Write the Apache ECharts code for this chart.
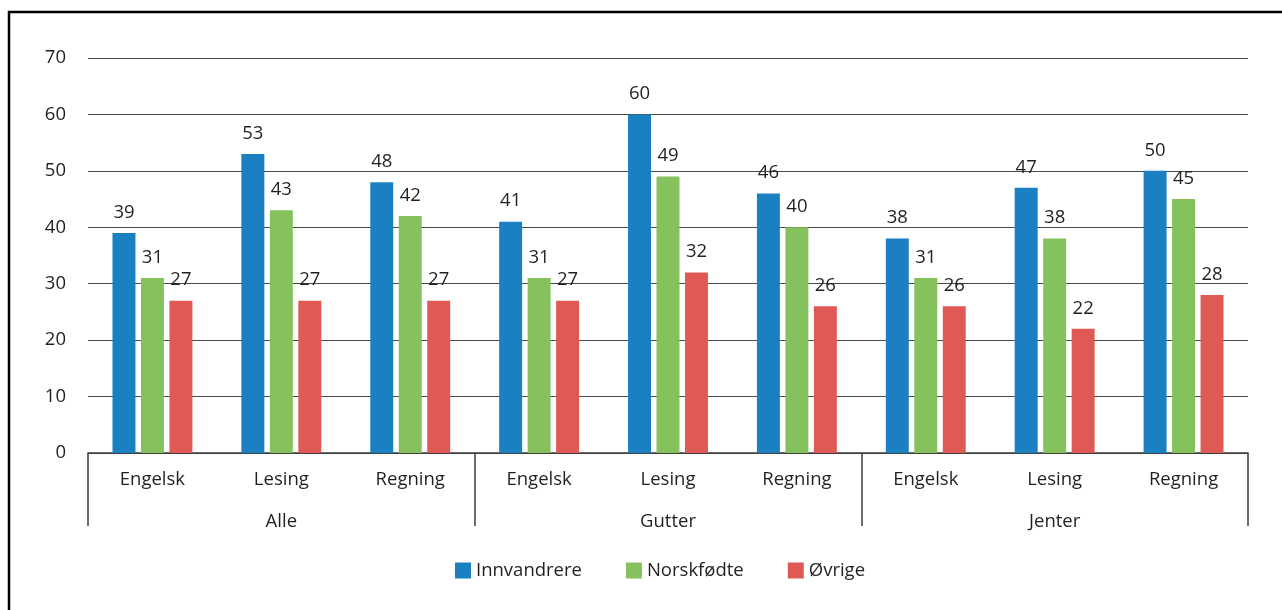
<!DOCTYPE html>
<html>
<head>
<meta charset="utf-8">
<script src="https://cdn.jsdelivr.net/npm/echarts@6/dist/echarts.min.js"></script>
<style>
  html, body { margin: 0; padding: 0; background: #fff; }
  #chart { width: 1282px; height: 610px; }
</style>
</head>
<body>
<div id="chart"></div>
<script>
// Subjects within each group, and the groups themselves
const subjects = ['Engelsk', 'Lesing', 'Regning', 'Engelsk', 'Lesing', 'Regning', 'Engelsk', 'Lesing', 'Regning'];
const groups = ['Alle', 'Gutter', 'Jenter'];
const yTicks = [0, 10, 20, 30, 40, 50, 60, 70];

// Percentages per series (Alle, Gutter, Jenter × Engelsk, Lesing, Regning)
const innvandrere = [39, 53, 48, 41, 60, 46, 38, 47, 50];
const norskfodte  = [31, 43, 42, 31, 49, 40, 31, 38, 45];
const ovrige      = [27, 27, 27, 27, 32, 26, 26, 22, 28];

const textColor = '#231f20';
const fontFamily = '"Open Sans", "Noto Sans", sans-serif';
const fontSize = 18.5;

const chart = echarts.init(document.getElementById('chart'), null, { renderer: 'canvas' });

function barSeries(name, data, color) {
  return {
    name: name,
    type: 'bar',
    data: data,
    xAxisIndex: 0,
    itemStyle: { color: color },
    barGap: '24%',
    barCategoryGap: '38%',
    label: {
      show: true,
      position: 'top',
      distance: 11,
      color: textColor,
      fontSize: fontSize,
      fontFamily: fontFamily
    }
  };
}

chart.setOption({
  animation: false,
  backgroundColor: '#ffffff',
  textStyle: { fontFamily: fontFamily, color: textColor },
  graphic: [{
    type: 'rect',
    shape: { x: 9, y: 12, width: 1400, height: 700 },
    style: { fill: 'none', stroke: '#000', lineWidth: 2.5 },
    silent: true,
    z: 100
  }],
  grid: { left: 88, right: 34, top: 58, bottom: 157 },
  legend: {
    top: 561,
    left: 455,
    padding: 0,
    itemWidth: 16,
    itemHeight: 16,
    itemGap: 44,
    icon: 'rect',
    textStyle: { color: textColor, fontSize: fontSize, fontFamily: fontFamily },
    data: ['Innvandrere', 'Norskfødte', 'Øvrige']
  },
  xAxis: [
    {
      type: 'category',
      data: subjects,
      position: 'bottom',
      axisLine: { show: true, lineStyle: { color: '#3c3c3c', width: 1.5 } },
      axisTick: { show: false },
      axisLabel: { color: textColor, fontSize: fontSize, fontFamily: fontFamily, margin: 17, interval: 0 }
    },
    {
      type: 'category',
      data: groups,
      position: 'bottom',
      axisLine: { show: false },
      axisTick: { show: true, length: 73, lineStyle: { color: '#3c3c3c', width: 1.5 } },
      axisLabel: { color: textColor, fontSize: fontSize, fontFamily: fontFamily, margin: 59, interval: 0 }
    }
  ],
  yAxis: {
    type: 'value',
    min: yTicks[0],
    max: yTicks[yTicks.length - 1],
    interval: 10,
    axisLine: { show: false },
    axisTick: { show: false },
    axisLabel: { color: textColor, fontSize: fontSize, fontFamily: fontFamily, margin: 22 },
    splitLine: { lineStyle: { color: '#4a4a4a', width: 1.2 } }
  },
  series: [
    barSeries('Innvandrere', innvandrere, '#1b80c2'),
    barSeries('Norskfødte', norskfodte, '#85c15d'),
    barSeries('Øvrige', ovrige, '#e05a55')
  ]
});
</script>
</body>
</html>
